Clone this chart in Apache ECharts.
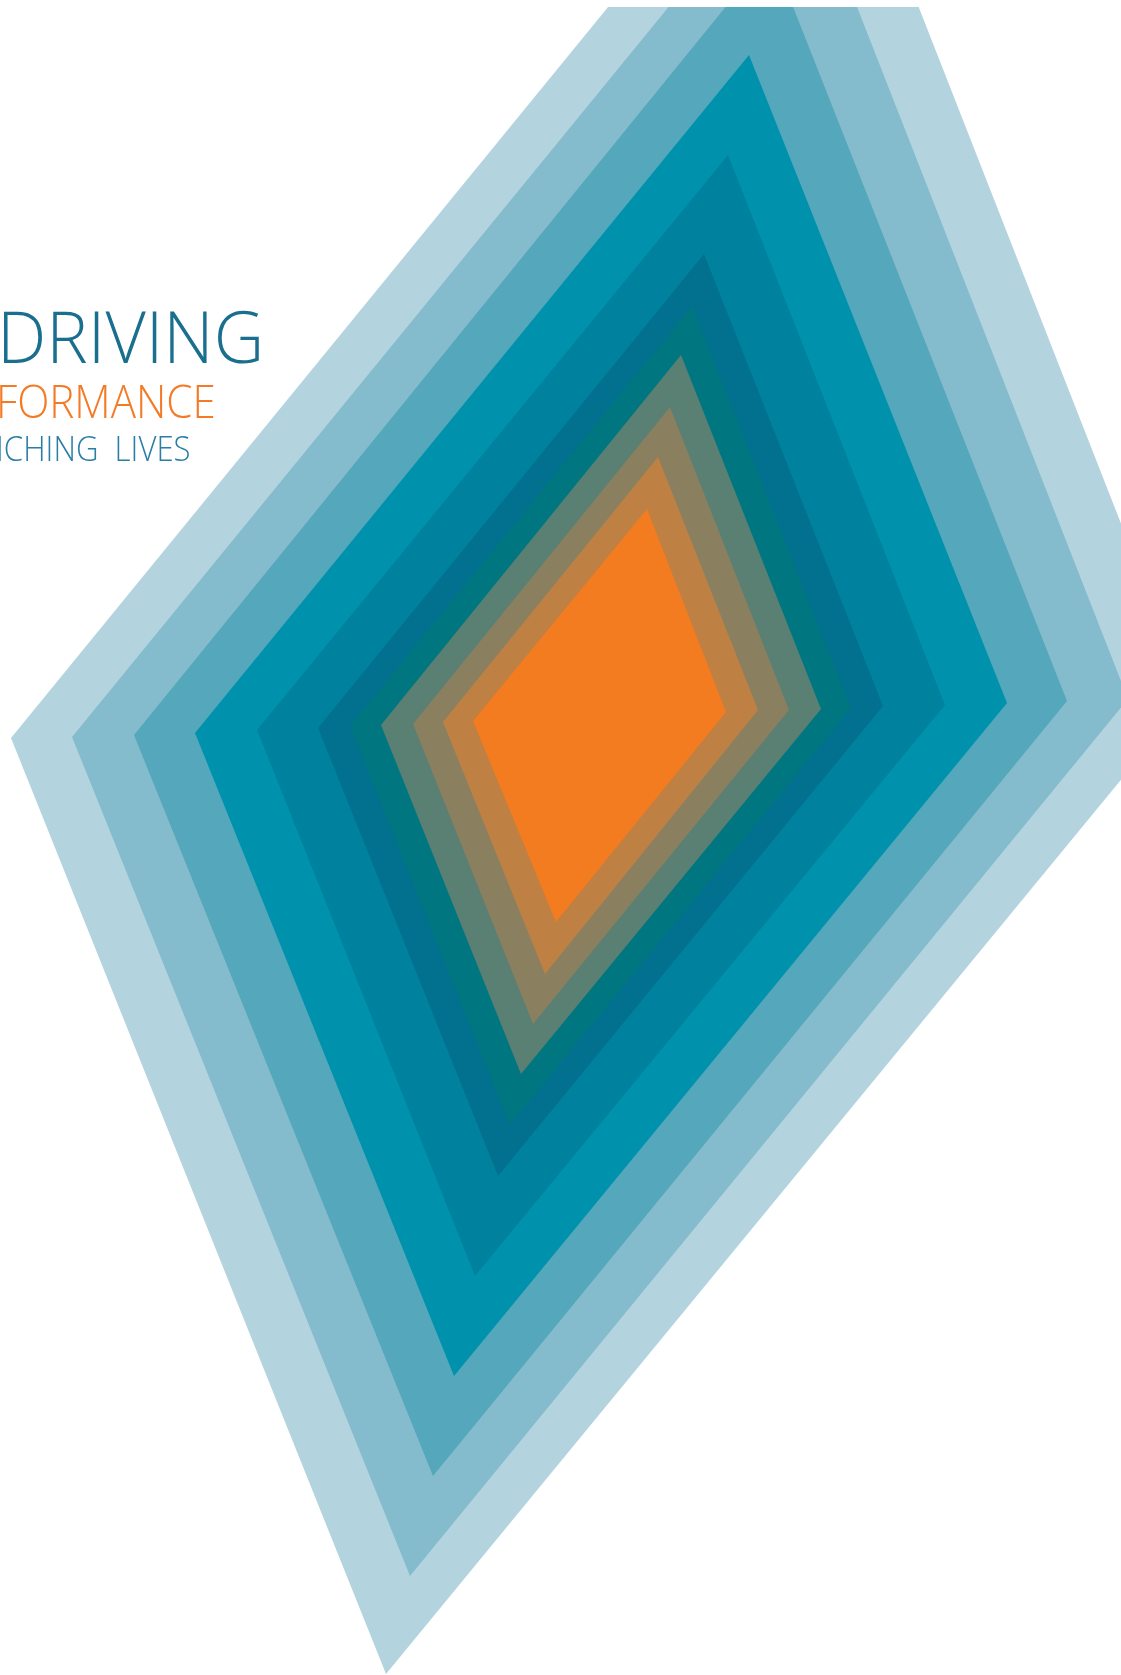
<!DOCTYPE html>
<html>
<head>
<meta charset="utf-8">
<script src="https://cdn.jsdelivr.net/npm/echarts@6/dist/echarts.min.js"></script>
<style>
html,body{margin:0;padding:0;background:#fff;}
#chart{width:1121px;height:1675px;}
</style>
</head>
<body>
<div id="chart"></div>
<script>
// Nested rhombus layers, outermost first (coordinates in image units)
var layerNames = ['L1','L2','L3','L4','L5','L6','L7','L8','L9','L10','L11'];
var topX    = [818, 796, 771, 749, 728, 704, 692, 681, 670, 658, 647];
var topY    = [-250, -149, -49, 55, 155, 254, 306, 355, 407, 457, 509];
var rightX  = [1189, 1128, 1067, 1007, 945, 883, 851, 821, 789, 758, 726];
var rightY  = [697, 699, 701, 703, 705, 706, 708, 709, 710, 710, 712];
var bottomX = [386, 410, 433, 454, 475, 498, 510, 521, 533, 545, 556];
var bottomY = [1674, 1576, 1476, 1376, 1276, 1176, 1125, 1074, 1024, 974, 922];
var leftX   = [11, 72, 134, 195, 257, 318, 350, 381, 413, 443, 473];
var leftY   = [738, 737, 735, 733, 730, 728, 726, 725, 724, 722, 721];
var palette = ['#b3d4df','#85bccd','#55a7bc','#0092ad','#00829e','#01718f','#007780','#5a7f73','#8a8060','#bf8043','#f37b20'];
var textLines = ['DRIVING', 'FORMANCE', 'ICHING  LIVES'];

var data = layerNames.map(function (n, i) {
  return { name: n, value: [topX[i], topY[i], rightX[i], rightY[i], bottomX[i], bottomY[i], leftX[i], leftY[i]] };
});

var chart = echarts.init(document.getElementById('chart'), null, { renderer: 'canvas' });
chart.setOption({
  animation: false,
  backgroundColor: '#ffffff',
  grid: { left: 0, right: 0, top: 7, bottom: 0 },
  xAxis: { type: 'value', min: 0, max: 1121, show: false },
  yAxis: { type: 'value', min: 7, max: 1675, inverse: true, show: false },
  series: [{
    type: 'custom',
    clip: true,
    data: data,
    encode: { x: [0, 2, 4, 6], y: [1, 3, 5, 7] },
    renderItem: function (params, api) {
      var pts = [];
      for (var k = 0; k < 4; k++) {
        pts.push(api.coord([api.value(k * 2), api.value(k * 2 + 1)]));
      }
      return {
        type: 'polygon',
        shape: { points: pts },
        style: { fill: palette[params.dataIndex], stroke: null }
      };
    }
  }],
  graphic: [
    { type: 'text', x: -3, y: 306, scaleX: 0.97, originX: 0,
      style: { text: textLines[0], font: '300 72px "Open Sans", "Noto Sans", sans-serif', fill: '#1a6f8f', textVerticalAlign: 'top' } },
    { type: 'text', x: -4, y: 382, scaleX: 0.915, originX: 0,
      style: { text: textLines[1], font: '300 46px "Open Sans", "Noto Sans", sans-serif', fill: '#f47a26', textVerticalAlign: 'top' } },
    { type: 'text', x: -4, y: 434, scaleX: 0.89, originX: 0,
      style: { text: textLines[2], font: '300 35px "Open Sans", "Noto Sans", sans-serif', fill: '#2a7ea6', textVerticalAlign: 'top' } }
  ]
});
</script>
</body>
</html>
